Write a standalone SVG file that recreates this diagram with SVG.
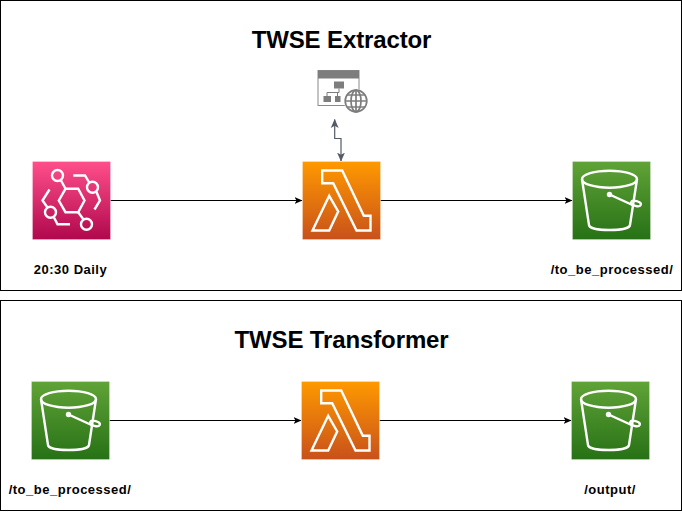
<svg xmlns="http://www.w3.org/2000/svg" xmlns:xlink="http://www.w3.org/1999/xlink" width="682" height="513" viewBox="0 0 682 513">
<style>
.panel{fill:#fff;stroke:#000;stroke-width:1}
.title{font:bold 24px "Liberation Sans",Arial,sans-serif;fill:#000;text-anchor:middle;letter-spacing:-.12px}
.label{font:bold 13px "Liberation Sans",Arial,sans-serif;fill:#000;text-anchor:middle;letter-spacing:.5px}
.glyph{fill:none;stroke:#fff;stroke-width:2.4;stroke-linejoin:miter}
.edge{fill:none;stroke:#000;stroke-width:1;marker-end:url(#arrow)}
.api{fill:none;stroke:#545B64;stroke-width:1.2;marker-start:url(#apiHead);marker-end:url(#apiHead)}
.edgeIcon{stroke:rgba(255,255,255,.25);stroke-width:1}
</style>
<defs>
<linearGradient id="pink" x1="0" y1="1" x2="0" y2="0"><stop offset="0" stop-color="#B0084D"/><stop offset="1" stop-color="#FF4F8B"/></linearGradient>
<linearGradient id="orange" x1="0" y1="1" x2="0" y2="0"><stop offset="0" stop-color="#C8511B"/><stop offset="1" stop-color="#FF9900"/></linearGradient>
<linearGradient id="green" x1="0" y1="1" x2="0" y2="0"><stop offset="0" stop-color="#277116"/><stop offset="1" stop-color="#60A337"/></linearGradient>
<marker id="arrow" viewBox="0 0 8 8" refX="7.500" refY="4" markerWidth="8" markerHeight="8" markerUnits="userSpaceOnUse" orient="auto"><path d="M0 .5L8 4L0 7.500L2 4Z" fill="#000"/></marker>
<marker id="apiHead" viewBox="0 0 8 8" refX="7.500" refY="4" markerWidth="9" markerHeight="9" markerUnits="userSpaceOnUse" orient="auto-start-reverse"><path d="M0 .5L8 4L0 7.500L2 4Z" fill="#545B64"/></marker>
<g id="s3Icon">
<rect width="78" height="78" fill="url(#green)" class="edgeIcon"/>
<g class="glyph">
<ellipse cx="37" cy="17.700" rx="27.500" ry="8.500"/>
<path d="M9.500 17.700L16.500 63.500C17 67 27 68.500 37 68.500S57 67 57.500 63.500L64.500 17.700"/>
<path d="M37 33L60 43.500"/>
<ellipse cx="63.500" cy="42" rx="5" ry="2.500" transform="rotate(15 63.500 42)"/>
</g>
<circle cx="37" cy="33" r="2.700" fill="#fff"/>
</g>
<g id="lambdaIcon">
<rect width="78" height="78" fill="url(#orange)" class="edgeIcon"/>
<g class="glyph">
<path d="M19.700 9H39.700L61.300 54.300H68V69H54L30.700 21.700H19.700Z"/>
<path d="M26.700 34.300L35.700 50L26.700 69H10Z"/>
</g>
</g>
</defs>

<rect id="panelExtractor" class="panel" x="0.500" y="0.500" width="681" height="290"/>
<rect id="panelTransformer" class="panel" x="0.500" y="300.500" width="681" height="210"/>

<g id="connectors">
<path class="edge" d="M110.500 200.500H302"/>
<path class="edge" d="M380.500 200.500H572"/>
<path class="edge" d="M109.500 420.500H301"/>
<path class="edge" d="M379.500 420.500H571"/>
<path class="api" d="M334.700 119.500V138.500H341V161"/>
</g>

<g id="titleExtractor"><text class="title" x="341.500" y="48">TWSE Extractor</text></g>
<g id="titleTransformer"><text class="title" x="341.500" y="348">TWSE Transformer</text></g>

<g id="eventbridge" transform="translate(32.500 161.500)">
<rect width="78" height="78" fill="url(#pink)" class="edgeIcon"/>
<g class="glyph">
<path d="M26.300 39L33 27.300H45.700L52 39L45.700 50.700H33Z"/>
<circle cx="25" cy="14" r="5.500"/>
<circle cx="60" cy="25.700" r="5.500"/>
<circle cx="18" cy="50.700" r="5.500"/>
<circle cx="54" cy="62.700" r="5.500"/>
<path d="M28.500 19L33 27.300M45.700 50.700L51 58"/>
<path d="M40.700 14H52.500L57 21.500M64 30.500L67.500 39L62 48"/>
<path d="M17 28L10 39L15 46M21.500 56L25 62.700H37.500"/>
</g>
</g>
<g id="eventbridgeLabel"><text class="label" x="70.500" y="274">20:30 Daily</text></g>

<g id="website">
<rect x="318" y="70.500" width="41" height="35" fill="#fff" stroke="#8A8A8A" stroke-width="1"/>
<rect x="318" y="70.500" width="41" height="8" fill="#7D7D7D"/>
<rect x="334" y="81.500" width="10" height="7" fill="#7D7D7D"/>
<rect x="323.500" y="96" width="7.500" height="6" fill="#7D7D7D"/>
<rect x="335" y="96" width="5.500" height="6" fill="#7D7D7D"/>
<path d="M339 88.500V92.500H327V96.500M337.500 92.500V96.500" fill="none" stroke="#7D7D7D" stroke-width="1"/>
<circle cx="356" cy="101" r="12" fill="#fff"/>
<g fill="none" stroke="#7D7D7D" stroke-width="1.700">
<circle cx="356" cy="101" r="10.800"/>
<ellipse cx="356" cy="101" rx="5" ry="10.800"/>
<path d="M356 90.200V111.800M345.200 101H366.800M347.500 95H364.500M347.500 107H364.500"/>
</g>
</g>

<g id="lambdaExtractor"><use xlink:href="#lambdaIcon" href="#lambdaIcon" transform="translate(302.500 161.500)"/></g>
<g id="s3Processed"><use xlink:href="#s3Icon" href="#s3Icon" transform="translate(572.500 161.500)"/></g>
<g id="s3ProcessedLabel"><text class="label" x="612" y="274">/to_be_processed/</text></g>
<g id="s3Source"><use xlink:href="#s3Icon" href="#s3Icon" transform="translate(31.500 381.500)"/></g>
<g id="s3SourceLabel"><text class="label" x="70" y="494">/to_be_processed/</text></g>
<g id="lambdaTransformer"><use xlink:href="#lambdaIcon" href="#lambdaIcon" transform="translate(301.500 381.500)"/></g>
<g id="s3Output"><use xlink:href="#s3Icon" href="#s3Icon" transform="translate(571.500 381.500)"/></g>
<g id="s3OutputLabel"><text class="label" x="610" y="494">/output/</text></g>
</svg>
